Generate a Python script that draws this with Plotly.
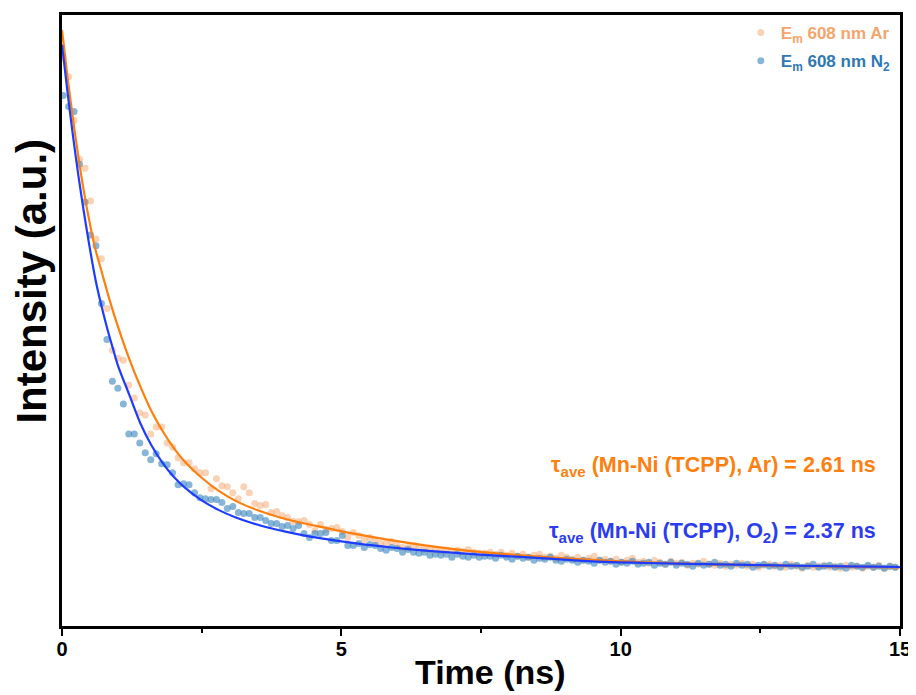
import plotly.graph_objects as go

# Time channels (ns)
time_ns = [0.020, 0.118, 0.216, 0.314, 0.412, 0.510, 0.608, 0.706, 0.804, 0.902,
           1.000, 1.098, 1.196, 1.294, 1.392, 1.490, 1.588, 1.686, 1.784, 1.882,
           1.980, 2.078, 2.176, 2.274, 2.372, 2.470, 2.568, 2.666, 2.764, 2.862,
           2.960, 3.058, 3.156, 3.254, 3.352, 3.450, 3.548, 3.646, 3.744, 3.842,
           3.940, 4.038, 4.136, 4.234, 4.332, 4.430, 4.528, 4.626, 4.724, 4.822,
           4.920, 5.018, 5.116, 5.214, 5.312, 5.410, 5.508, 5.606, 5.704, 5.802,
           5.900, 5.998, 6.096, 6.194, 6.292, 6.390, 6.488, 6.586, 6.684, 6.782,
           6.880, 6.978, 7.076, 7.174, 7.272, 7.370, 7.468, 7.566, 7.664, 7.762,
           7.860, 7.958, 8.056, 8.154, 8.252, 8.350, 8.448, 8.546, 8.644, 8.742,
           8.840, 8.938, 9.036, 9.134, 9.232, 9.330, 9.428, 9.526, 9.624, 9.722,
           9.820, 9.918, 10.016, 10.114, 10.212, 10.310, 10.408, 10.506, 10.604, 10.702,
           10.800, 10.898, 10.996, 11.094, 11.192, 11.290, 11.388, 11.486, 11.584, 11.682,
           11.780, 11.878, 11.976, 12.074, 12.172, 12.270, 12.368, 12.466, 12.564, 12.662,
           12.760, 12.858, 12.956, 13.054, 13.152, 13.250, 13.348, 13.446, 13.544, 13.642,
           13.740, 13.838, 13.936, 14.034, 14.132, 14.230, 14.328, 14.426, 14.524, 14.622,
           14.720, 14.818, 14.916]

# Measured decay, Em 608 nm, Ar (a.u.)
ar_counts = [511, 492, 448, 409, 400, 367, 329, 309, 259, 217,
             209, 207, 182, 169, 154, 152, 133, 140, 140, 124,
             120, 109, 104, 104, 98, 94, 94, 78, 88, 81,
             80, 74, 68, 80, 74, 63, 61, 62, 54, 55,
             51, 49, 45, 45, 46, 42, 36, 42, 37, 38,
             39, 35, 29, 34, 31, 27, 29, 26, 23, 23,
             25, 21, 19, 19, 21, 19, 17, 17, 16, 15,
             16, 15, 16, 15, 17, 14, 13, 13, 14, 12,
             14, 11, 13, 10, 12, 9, 11, 12, 9, 10,
             8, 11, 9, 7, 9, 6, 8, 10, 6, 7,
             5, 7, 4, 6, 8, 4, 5, 3, 6, 4,
             2, 5, 3, 4, 1, 3, 2, 5, 2, 1,
             3, 0, 2, 1, 3, 0, 2, -1, 1, 2,
             0, 1, -1, 2, 0, -2, 1, -1, 0, 1,
             -1, 0, -2, 1, -1, 0, -2, 0, -1, 1,
             -2, 0, -1]

# Measured decay, Em 608 nm, N2 (a.u.)
n2_counts = [473, 462, 457, 404, 366, 333, 322, 264, 228, 186,
             179, 163, 133, 133, 124, 114, 107, 113, 103, 102,
             94, 82, 83, 82, 74, 69, 68, 67, 67, 64,
             58, 60, 54, 53, 53, 49, 49, 46, 43, 43,
             40, 41, 38, 41, 33, 29, 33, 33, 34, 26,
             26, 31, 21, 21, 23, 19, 22, 21, 18, 16,
             19, 18, 14, 17, 14, 13, 14, 11, 12, 11,
             12, 9, 12, 10, 9, 11, 9, 10, 10, 8,
             11, 9, 7, 10, 8, 9, 6, 8, 7, 9,
             6, 5, 7, 6, 4, 6, 5, 3, 6, 4,
             5, 2, 4, 3, 5, 2, 3, 4, 1, 3,
             2, 4, 1, 3, 2, 0, 3, 1, 2, 4,
             1, 2, 0, 3, 1, 2, -1, 1, 2, 0,
             1, -1, 2, 0, 1, -1, 0, 2, -1, 0,
             1, -1, 0, -2, 1, 0, -1, 1, -1, 0,
             -2, 0, -1]

# Fitted decay curves
ar_fit_t = [0, 0.1, 0.2, 0.3, 0.4, 0.5, 0.6, 0.7, 0.85, 1.0, 1.2, 1.4, 1.6, 1.8, 2.0,
            2.2, 2.5, 2.8, 3.1, 3.4, 3.7, 4.0, 4.3, 4.7, 5.2, 5.8, 6.5, 7.2, 8.0, 9.0,
            10, 11, 12, 13, 14, 15]
ar_fit = [539, 491, 448, 409, 374, 344, 318, 298, 268, 241, 209, 181, 156, 136, 119,
          105, 89, 76, 66, 58.5, 52.5, 47.5, 43.5, 38.8, 33, 27, 21, 16, 12, 8,
          5, 3, 1.5, 0.5, -0.3, -1]

n2_fit_t = [0, 0.1, 0.2, 0.3, 0.4, 0.5, 0.6, 0.7, 0.8, 0.9, 1.0, 1.2, 1.4, 1.6, 1.8,
            2.0, 2.2, 2.5, 2.8, 3.1, 3.4, 3.7, 4.0, 4.3, 4.7, 5.3, 5.9, 6.5, 7.1, 7.7,
            8.5, 9.5, 10.5, 11.5, 12.5, 13.5, 14.5, 15]
n2_fit = [524, 476, 431, 390, 353, 319, 288, 263, 241, 221, 202, 173, 144, 121.6, 104,
          90, 79, 66.2, 56.7, 49.3, 43.5, 38.7, 34.8, 31.4, 27.5, 22.7, 18.9, 15.8, 13.2, 11,
          8.5, 5, 3.3, 2.1, 1.1, 0.3, -0.4, -0.7]

x_ticks = [0, 5, 10, 15]
tau_ar = 2.61
tau_o2 = 2.37

FONT = "Liberation Sans"

fig = go.Figure()
fig.add_trace(go.Scatter(
    x=time_ns, y=ar_counts, mode="markers", legendgroup="ar",
    name='<span style="color:#F4A46C">E<sub>m</sub> 608 nm Ar</span>',
    marker=dict(size=7, color="rgba(245,165,110,0.5)", line=dict(width=0))))
fig.add_trace(go.Scatter(
    x=time_ns, y=n2_counts, mode="markers", legendgroup="n2",
    name='<span style="color:#2F78B4">E<sub>m</sub> 608 nm N<sub>2</sub></span>',
    marker=dict(size=7, color="rgba(60,135,190,0.62)", line=dict(width=0))))
fig.add_trace(go.Scatter(
    x=ar_fit_t, y=ar_fit, mode="lines", showlegend=False,
    line=dict(color="#FF7F0E", width=2.2, shape="spline", smoothing=0.8)))
fig.add_trace(go.Scatter(
    x=n2_fit_t, y=n2_fit, mode="lines", showlegend=False,
    line=dict(color="#1E3CFF", width=2.2, shape="spline", smoothing=0.8)))

fig.update_layout(
    width=908, height=687,
    margin=dict(l=54, r=16, t=4, b=69),
    paper_bgcolor="white", plot_bgcolor="white",
    font=dict(family=FONT, color="black"),
    showlegend=True,
    legend=dict(x=0.995, y=1.0, xanchor="right", yanchor="top",
                bgcolor="rgba(0,0,0,0)", borderwidth=0,
                font=dict(size=17, family=FONT, weight="bold"),
                itemwidth=30, tracegroupgap=3),
)
fig.update_xaxes(
    range=[0, 15], tickvals=x_ticks, ticktext=[str(v) for v in x_ticks],
    ticks="outside", ticklen=7, tickwidth=2, tickcolor="black",
    minor=dict(dtick=2.5, ticks="outside", ticklen=4, tickwidth=2, tickcolor="black"),
    showline=True, linewidth=2.5, linecolor="black", mirror=True,
    showgrid=False, zeroline=False,
    tickfont=dict(size=20, family=FONT, weight="bold"),
    ticklabelstandoff=-4,
)
fig.update_yaxes(
    range=[-60, 554], showticklabels=False, ticks="",
    showline=True, linewidth=2.5, linecolor="black", mirror=True,
    showgrid=False, zeroline=False,
)

fig.add_annotation(
    xref="paper", yref="paper", x=0.511, y=-0.075, showarrow=False,
    text="Time (ns)", font=dict(size=34, family=FONT, weight="bold", color="black"),
    xanchor="center", yanchor="middle")
fig.add_annotation(
    xref="paper", yref="paper", x=-0.036, y=0.565, showarrow=False, textangle=-90,
    text="Intensity (a.u.)", font=dict(size=42, family=FONT, weight="bold", color="black"),
    xanchor="center", yanchor="middle")
fig.add_annotation(
    xref="paper", yref="paper", x=0.974, y=0.2606, showarrow=False,
    text=f"τ<sub>ave</sub> (Mn-Ni (TCPP), Ar) = {tau_ar:.2f} ns",
    font=dict(size=21.5, family=FONT, weight="bold", color="#FF7F0E"),
    xanchor="right", yanchor="middle")
fig.add_annotation(
    xref="paper", yref="paper", x=0.974, y=0.153, showarrow=False,
    text=f"τ<sub>ave</sub> (Mn-Ni (TCPP), O<sub>2</sub>) = {tau_o2:.2f} ns",
    font=dict(size=21.5, family=FONT, weight="bold", color="#2B3BF0"),
    xanchor="right", yanchor="middle")

fig.write_html("out.html")
